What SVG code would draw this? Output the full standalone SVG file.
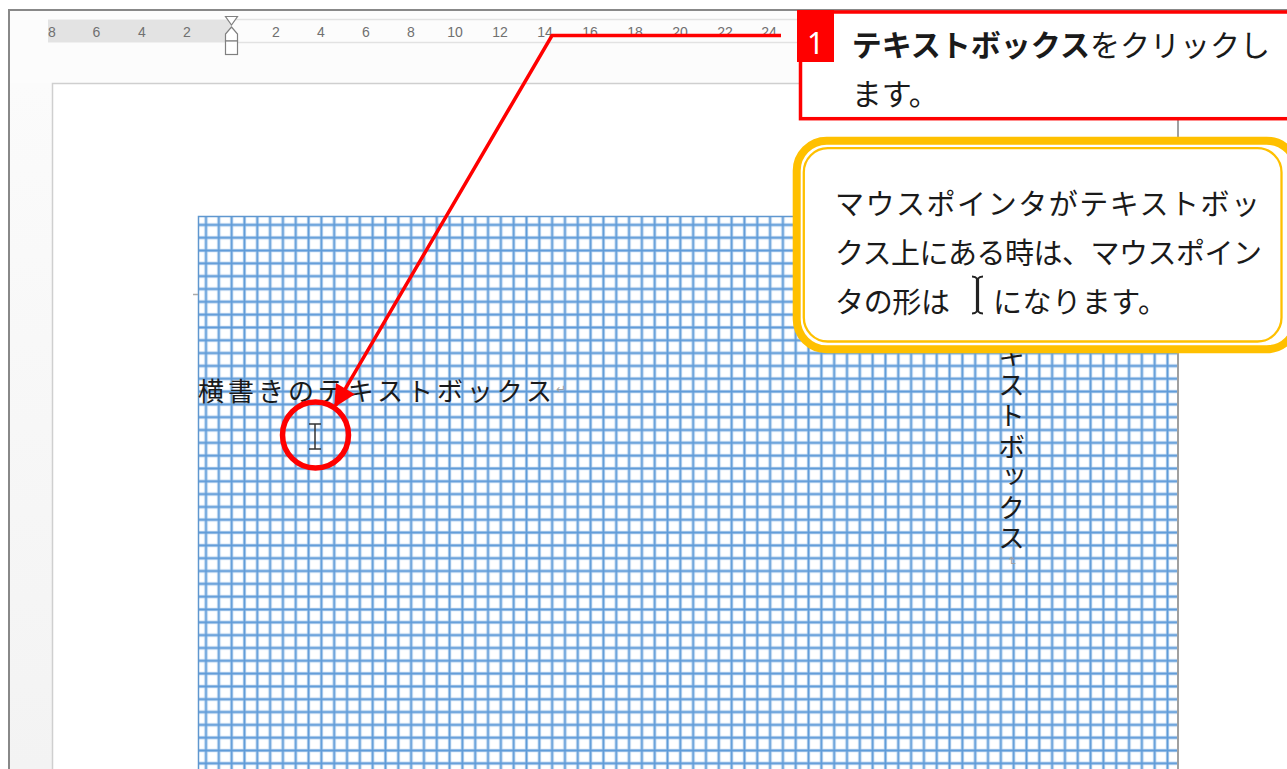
<svg xmlns="http://www.w3.org/2000/svg" width="1287" height="769" viewBox="0 0 1287 769">
<style>
.rn{font-family:"Liberation Sans",Arial,sans-serif;font-size:14px;fill:#707070;text-anchor:middle}
.jp{font-family:"Noto Sans CJK JP","Noto Sans",sans-serif;fill:#1a1a1a}
.red{stroke:#ff0000;fill:none}
.yel{stroke:#ffc000}
</style>
<defs>
<pattern id="grid" patternUnits="userSpaceOnUse" x="199.59" y="218.49" width="12.82" height="12.82">
<path d="M6.41 0V12.82M0 6.41H12.82" stroke="#c3daf2" stroke-width="3.4"/>
<path d="M6.41 0V12.82M0 6.41H12.82" stroke="#5f9bd8" stroke-width="1.8"/>
</pattern>
<linearGradient id="strip" x1="0" y1="0" x2="0" y2="1">
<stop offset="0" stop-color="#fbfbfb"/>
<stop offset="1" stop-color="#f3f3f3"/>
</linearGradient>
<marker id="ah" viewBox="0 0 10 10" refX="8.8" refY="5" markerWidth="26" markerHeight="22" markerUnits="userSpaceOnUse" orient="auto">
<path d="M0 0L10 5L0 10z" fill="#ff0000"/>
</marker>
</defs>

<g id="window">
<rect x="0" y="0" width="1287" height="769" fill="#ffffff"/>
<rect x="10" y="11" width="1277" height="72" fill="#fcfcfc"/>
<rect x="10" y="83" width="42" height="686" fill="url(#strip)"/>
<path d="M9 769V10H1287" stroke="#888" stroke-width="2" fill="none"/>
<rect x="52" y="83" width="1126" height="686" fill="#ffffff"/>
<path d="M52.5 769V83.5H1178" stroke="#cfcfcf" stroke-width="1.5" fill="none"/>
</g>

<g id="ruler">
<rect x="48" y="19.5" width="183" height="23" fill="#e3e3e3"/>
<path d="M231 19.5H800M231 42.5H800" stroke="#e2e2e2" stroke-width="1.5"/>
<text class="rn" x="52" y="36.5">8</text>
<text class="rn" x="96.5" y="36.5">6</text>
<text class="rn" x="142" y="36.5">4</text>
<text class="rn" x="187" y="36.5">2</text>
<text class="rn" x="276" y="36.5">2</text>
<text class="rn" x="321" y="36.5">4</text>
<text class="rn" x="366" y="36.5">6</text>
<text class="rn" x="411" y="36.5">8</text>
<text class="rn" x="455" y="36.5">10</text>
<text class="rn" x="500" y="36.5">12</text>
<text class="rn" x="545" y="36.5">14</text>
<text class="rn" x="590" y="36.5">16</text>
<text class="rn" x="635" y="36.5">18</text>
<text class="rn" x="680" y="36.5">20</text>
<text class="rn" x="725" y="36.5">22</text>
<text class="rn" x="769" y="36.5">24</text>
<g fill="#ffffff" stroke="#808080" stroke-width="1.2">
<path d="M225.5 16.5H237.5L231.5 25z"/>
<path d="M231.5 27L237.5 34V41H225.5V34z"/>
<rect x="225.5" y="41" width="12" height="13.5"/>
</g>
</g>

<g id="gridbox">
<rect x="198" y="216" width="980" height="553" fill="url(#grid)"/>
<path d="M198.5 769V216.5H1178" stroke="#5f97cf" stroke-width="1.5" fill="none"/>
<path d="M1178 120V769" stroke="#a0a0a0" stroke-width="2"/>
<path d="M193 294.5H198" stroke="#aaa" stroke-width="1.5"/>
</g>

<g id="htext">
<text class="jp" x="198" y="401" font-size="26" textLength="354" lengthAdjust="spacing">横書きのテキストボックス</text>
<text x="561" y="393" font-family="DejaVu Sans,sans-serif" font-size="12" fill="#a0a0a0" text-anchor="middle">↵</text>
</g>

<g id="vtext">
<text class="jp" x="1011.5" y="341" font-size="27" letter-spacing="3.6" writing-mode="tb" style="writing-mode:vertical-rl">キストボックス</text>
<text x="1008" y="561" font-family="DejaVu Sans,sans-serif" font-size="12" fill="#a0a0a0" text-anchor="middle" transform="rotate(90 1008 561)">↵</text>
</g>

<g id="cursor">
<path d="M309 424H321M315 424V449M309 449H321" stroke="#333" stroke-width="1.5" fill="none"/>
</g>

<g id="connectors">
<polyline class="red" points="781,35.5 552,35.5 335.6,405.3" stroke-width="3.5" stroke-linejoin="miter" marker-end="url(#ah)"/>
<circle class="red" cx="315.5" cy="435" r="33" stroke-width="5.5"/>
</g>

<g id="callout1">
<rect x="800.5" y="12" width="500" height="106.7" fill="#ffffff" stroke="#ff0000" stroke-width="3.5"/>
<rect x="797" y="10" width="37" height="52" fill="#ff0000"/>
<text x="815.5" y="54" font-family="'Noto Sans','Liberation Sans',sans-serif" font-size="30" fill="#ffffff" text-anchor="middle">1</text>
<text class="jp" x="851.7" y="56" font-size="30"><tspan font-weight="bold">テキストボックス</tspan>をクリックし</text>
<text class="jp" x="851.7" y="105" font-size="30">ます。</text>
</g>

<g id="callout2">
<rect x="796.7" y="140.7" width="500" height="208.6" rx="30" fill="#ffffff" class="yel" stroke-width="8"/>
<rect x="803.8" y="148.2" width="477.7" height="193.3" rx="24" fill="none" class="yel" stroke-width="2.3"/>
<text class="jp" x="835" y="215" font-size="29" textLength="425" lengthAdjust="spacing">マウスポインタがテキストボッ</text>
<text class="jp" x="835" y="264" font-size="29" textLength="427" lengthAdjust="spacing">クス上にある時は、マウスポイン</text>
<text class="jp" x="835" y="313" font-size="29" textLength="115" lengthAdjust="spacing">タの形は</text>
<path d="M972 276.5Q975.5 276.5 977.5 279M977.5 279Q979.5 276.5 983 276.5M972 313.5Q975.5 313.5 977.5 311M977.5 311Q979.5 313.5 983 313.5" stroke="#222" stroke-width="2" fill="none"/>
<path d="M977.5 278.5V311.5" stroke="#222" stroke-width="3.2"/>
<text class="jp" x="993" y="313" font-size="29" textLength="174" lengthAdjust="spacing">になります。</text>
</g>
</svg>
